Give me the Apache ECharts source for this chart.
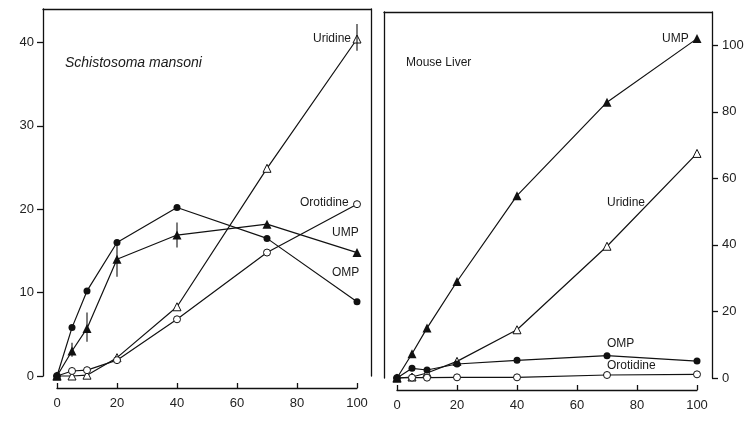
<!DOCTYPE html>
<html>
<head>
<meta charset="utf-8">
<script src="https://cdn.jsdelivr.net/npm/echarts@6/dist/echarts.min.js"></script>
<style>
html,body{margin:0;padding:0;background:#fff;}
#c{width:754px;height:423px;}
</style>
</head>
<body>
<div id="c"></div>
<script>
// ---- data ----
var timePoints = [0, 5, 10, 20, 40, 70, 100];
var xTicks = [0, 20, 40, 60, 80, 100];
var yTicksS = [0, 10, 20, 30, 40];
var yTicksM = [0, 20, 40, 60, 80, 100];

// Schistosoma mansoni panel
var ompS = [0, 5.8, 10.2, 16.0, 20.2, 16.5, 8.9];
var umpS = [0, 3.0, 5.7, 14.0, 16.9, 18.2, 14.8];
var uridineS = [0, 0, 0.1, 2.2, 8.3, 24.9, 40.4];
var orotidineS = [0, 0.6, 0.7, 1.9, 6.8, 14.8, 20.6];
// error bars [x, low, high]
var umpErrS = [[5, 2.3, 4.0], [10, 4.1, 7.6], [20, 11.9, 16.0], [40, 15.4, 18.4]];
var uridineErrS = [[100, 39.0, 42.2]];

// Mouse liver panel
var umpM = [0, 7.3, 15.0, 29.0, 54.8, 82.9, 102];
var uridineM = [0, 0.3, 1.5, 5.0, 14.5, 39.6, 67.5];
var ompM = [0, 2.9, 2.4, 4.2, 5.3, 6.7, 5.1];
var orotidineM = [0, 0.1, 0.1, 0.2, 0.2, 0.9, 1.1];

function pairs(vals){ return timePoints.map(function(t,i){ return [t, vals[i]]; }); }

var INK = '#111';
var FONT = '"Liberation Sans", Arial, sans-serif';

function frameX(grid){
  return {gridIndex:grid, type:'value', position:'top', min:0, max:1,
    axisLine:{show:true, onZero:false, lineStyle:{color:INK, width:1.3}}, axisTick:{show:false},
    axisLabel:{show:false}, splitLine:{show:false}};
}
function frameYLine(grid, pos){
  return {gridIndex:grid, type:'value', position:pos, min:0, max:1,
    axisLine:{show:true, onZero:false, lineStyle:{color:INK, width:1.3}}, axisTick:{show:false},
    axisLabel:{show:false}, splitLine:{show:false}};
}
function dataX(grid){
  return {gridIndex:grid, type:'value', position:'bottom', min:0, max:100, interval:20, offset:12,
    axisLine:{show:true, onZero:false, lineStyle:{color:INK, width:1.3}},
    axisTick:{show:true, inside:true, length:5, lineStyle:{color:INK, width:1.3}, customValues:xTicks},
    axisLabel:{show:true, margin:9, fontSize:13, color:'#222', fontFamily:FONT, customValues:xTicks},
    splitLine:{show:false}};
}
function hiddenY(grid, max){
  return {gridIndex:grid, type:'value', min:0, max:max, show:false, splitLine:{show:false}};
}

function lineSeries(xi, yi, vals, symbol, size, open){
  return {type:'line', xAxisIndex:xi, yAxisIndex:yi, data:pairs(vals), symbol:symbol, symbolSize:size,
    showAllSymbol:true, clip:false, animation:false, z: open ? 3 : 4,
    lineStyle:{color:INK, width:1.2},
    itemStyle:{color: open ? '#fff' : INK, borderColor:INK, borderWidth: open ? 1 : 0}};
}
function errSeries(xi, yi, data){
  return {type:'custom', xAxisIndex:xi, yAxisIndex:yi, data:data, animation:false, clip:false, z:5,
    encode:{x:0, y:[1,2]},
    renderItem:function(params, api){
      var p1 = api.coord([api.value(0), api.value(1)]);
      var p2 = api.coord([api.value(0), api.value(2)]);
      return {type:'line', shape:{x1:p1[0], y1:p1[1], x2:p2[0], y2:p2[1]},
        style:{stroke:INK, lineWidth:1.1}};
    }};
}
function label(text, x, y, extra){
  var s = {text:text, x:x, y:y, fill:'#1a1a1a', font:(extra||'') + ' 12px ' + FONT, verticalAlign:'middle'};
  return {type:'text', style:s, z:10};
}

var option = {
  backgroundColor:'#fff',
  animation:false,
  grid:[
    {left:43, top:9, width:328, height:367},
    {left:57, top:9, width:300, height:367},
    {left:384, top:12, width:328, height:366},
    {left:397, top:12, width:300, height:366}
  ],
  xAxis:[ frameX(0), dataX(1), frameX(2), dataX(3) ],
  yAxis:[
    {gridIndex:0, type:'value', position:'left', min:0, max:44,
      axisLine:{show:true, onZero:false, lineStyle:{color:INK, width:1.3}},
      axisTick:{show:true, length:6, lineStyle:{color:INK, width:1.3}, customValues:yTicksS},
      axisLabel:{show:true, margin:9, fontSize:13, color:'#222', fontFamily:FONT, customValues:yTicksS},
      splitLine:{show:false}},
    frameYLine(0, 'right'),
    hiddenY(1, 44),
    frameYLine(2, 'left'),
    {gridIndex:2, type:'value', position:'right', min:0, max:110,
      axisLine:{show:true, onZero:false, lineStyle:{color:INK, width:1.3}},
      axisTick:{show:true, length:6, lineStyle:{color:INK, width:1.3}, customValues:yTicksM},
      axisLabel:{show:true, margin:10, fontSize:13, color:'#222', fontFamily:FONT, customValues:yTicksM},
      splitLine:{show:false}},
    hiddenY(3, 110)
  ],
  series:[
    lineSeries(1, 2, ompS, 'circle', 7, false),
    lineSeries(1, 2, umpS, 'triangle', 9, false),
    lineSeries(1, 2, uridineS, 'triangle', 8, true),
    lineSeries(1, 2, orotidineS, 'circle', 7, true),
    errSeries(1, 2, umpErrS),
    errSeries(1, 2, uridineErrS),
    lineSeries(3, 5, umpM, 'triangle', 9, false),
    lineSeries(3, 5, uridineM, 'triangle', 8, true),
    lineSeries(3, 5, ompM, 'circle', 7, false),
    lineSeries(3, 5, orotidineM, 'circle', 7, true)
  ],
  graphic:[
    {type:'text', z:10, style:{text:'Schistosoma mansoni', x:65, y:63, fill:'#1a1a1a', font:'italic 14px ' + FONT, verticalAlign:'middle'}},
    label('Uridine', 313, 39),
    label('Orotidine', 300, 203),
    label('UMP', 332, 233),
    label('OMP', 332, 273),
    label('Mouse Liver', 406, 63),
    label('UMP', 662, 39),
    label('Uridine', 607, 203),
    label('OMP', 607, 344),
    label('Orotidine', 607, 366)
  ]
};

var chart = echarts.init(document.getElementById('c'), null, {renderer:'canvas'});
chart.setOption(option);
</script>
</body>
</html>
